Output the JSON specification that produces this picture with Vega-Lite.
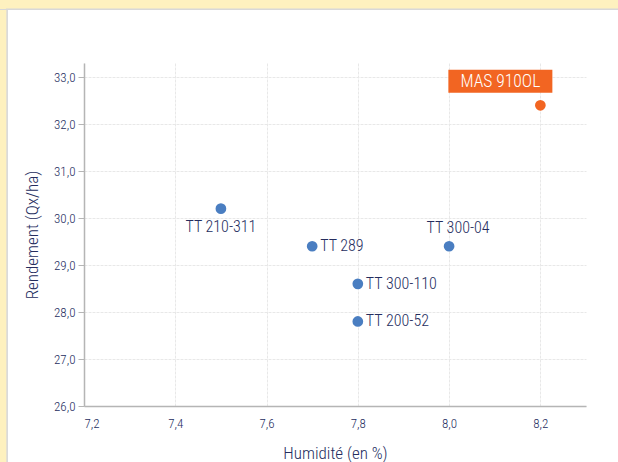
{
  "$schema": "https://vega.github.io/schema/vega-lite/v6.json",
  "width": 502,
  "height": 343,
  "autosize": {"type": "none"},
  "padding": {"left": 84, "top": 63, "right": 32, "bottom": 56},
  "background": "white",
  "config": {
    "locale": {"number": {"decimal": ",", "thousands": " ", "grouping": [3], "currency": ["", " €"]}},
    "view": {"stroke": null},
    "font": "Roboto Condensed, DejaVu Sans Condensed, Liberation Sans",
    "text": {"font": "Roboto Condensed, DejaVu Sans Condensed, Liberation Sans", "fontWeight": 300},
    "axis": {
      "labelFont": "Roboto Condensed, DejaVu Sans Condensed, Liberation Sans",
      "titleFont": "Roboto Condensed, DejaVu Sans Condensed, Liberation Sans",
      "labelColor": "#252D5E",
      "titleColor": "#252D5E",
      "labelFontSize": 13,
      "labelFontWeight": 300,
      "titleFontSize": 17,
      "titleFontWeight": 300,
      "gridColor": "#E8E8E8",
      "gridDash": [3, 1],
      "gridWidth": 1,
      "domainColor": "#B5B5B5",
      "domainWidth": 1.5,
      "tickColor": "#B5B5B5"
    }
  },
  "data": {
    "values": [
      {"variete": "TT 210-311", "humidite": 7.5, "rendement": 30.2, "groupe": "autre", "position": "dessous"},
      {"variete": "TT 289", "humidite": 7.7, "rendement": 29.4, "groupe": "autre", "position": "droite"},
      {"variete": "TT 300-110", "humidite": 7.8, "rendement": 28.6, "groupe": "autre", "position": "droite"},
      {"variete": "TT 200-52", "humidite": 7.8, "rendement": 27.8, "groupe": "autre", "position": "droite"},
      {"variete": "TT 300-04", "humidite": 8.0, "rendement": 29.4, "groupe": "autre", "position": "dessus"},
      {"variete": "MAS 910OL", "humidite": 8.2, "rendement": 32.4, "groupe": "vedette", "position": "boite"}
    ]
  },
  "layer": [
    {
      "mark": {"type": "point", "filled": true, "opacity": 1, "size": 115},
      "encoding": {
        "x": {
          "field": "humidite", "type": "quantitative",
          "scale": {"domain": [7.2, 8.3], "nice": false, "zero": false},
          "axis": {
            "title": "Humidité (en %)",
            "values": [7.2, 7.4, 7.6, 7.8, 8.0, 8.2],
            "format": ".1f",
            "ticks": false,
            "labelPadding": 11,
            "titlePadding": 15,
            "grid": true
          }
        },
        "y": {
          "field": "rendement", "type": "quantitative",
          "scale": {"domain": [26, 33.3], "nice": false, "zero": false},
          "axis": {
            "title": "Rendement (Qx/ha)",
            "values": [26, 27, 28, 29, 30, 31, 32, 33],
            "format": ".1f",
            "tickSize": 6,
            "labelPadding": 3,
            "titlePadding": 12,
            "grid": true
          }
        },
        "color": {
          "field": "groupe", "type": "nominal",
          "scale": {"domain": ["autre", "vedette"], "range": ["#4A7EC1", "#F26522"]},
          "legend": null
        }
      }
    },
    {
      "transform": [{"filter": "datum.position === 'droite'"}],
      "mark": {"type": "text", "align": "left", "baseline": "middle", "dx": 8, "fontSize": 16, "color": "#252D5E"},
      "encoding": {
        "x": {"field": "humidite", "type": "quantitative"},
        "y": {"field": "rendement", "type": "quantitative"},
        "text": {"field": "variete"}
      }
    },
    {
      "transform": [{"filter": "datum.position === 'dessous'"}],
      "mark": {"type": "text", "align": "center", "baseline": "top", "dy": 10, "fontSize": 16, "color": "#252D5E"},
      "encoding": {
        "x": {"field": "humidite", "type": "quantitative"},
        "y": {"field": "rendement", "type": "quantitative"},
        "text": {"field": "variete"}
      }
    },
    {
      "transform": [{"filter": "datum.position === 'dessus'"}],
      "mark": {"type": "text", "align": "center", "baseline": "bottom", "dx": 9, "dy": -10, "fontSize": 16, "color": "#252D5E"},
      "encoding": {
        "x": {"field": "humidite", "type": "quantitative"},
        "y": {"field": "rendement", "type": "quantitative"},
        "text": {"field": "variete"}
      }
    },
    {
      "transform": [{"filter": "datum.position === 'boite'"}],
      "mark": {"type": "rect", "width": 104, "height": 23, "xOffset": -40, "yOffset": -24, "color": "#F26522"},
      "encoding": {
        "x": {"field": "humidite", "type": "quantitative"},
        "y": {"field": "rendement", "type": "quantitative"}
      }
    },
    {
      "transform": [{"filter": "datum.position === 'boite'"}],
      "mark": {"type": "text", "align": "center", "baseline": "middle", "dx": -40, "dy": -23, "fontSize": 17.5, "fontWeight": 300, "color": "white"},
      "encoding": {
        "x": {"field": "humidite", "type": "quantitative"},
        "y": {"field": "rendement", "type": "quantitative"},
        "text": {"field": "variete"}
      }
    },
    {
      "mark": {"type": "rect", "fill": "#FEF1BF", "stroke": "#D8D8D8", "strokeWidth": 1, "clip": false},
      "encoding": {
        "x": {"datum": 6.8, "type": "quantitative"},
        "x2": {"datum": 7.031},
        "y": {"datum": 35.5, "type": "quantitative"},
        "y2": {"datum": 24.0}
      }
    },
    {
      "mark": {"type": "rect", "fill": "#FEF1BF", "stroke": "#D8D8D8", "strokeWidth": 1, "clip": false},
      "encoding": {
        "x": {"datum": 6.8, "type": "quantitative"},
        "x2": {"datum": 8.6},
        "y": {"datum": 35.5, "type": "quantitative"},
        "y2": {"datum": 34.45}
      }
    },
    {
      "mark": {"type": "rect", "fill": "#FEF1BF", "stroke": null, "clip": false},
      "encoding": {
        "x": {"datum": 6.8, "type": "quantitative"},
        "x2": {"datum": 7.029},
        "y": {"datum": 35.5, "type": "quantitative"},
        "y2": {"datum": 34.46}
      }
    }
  ]
}
